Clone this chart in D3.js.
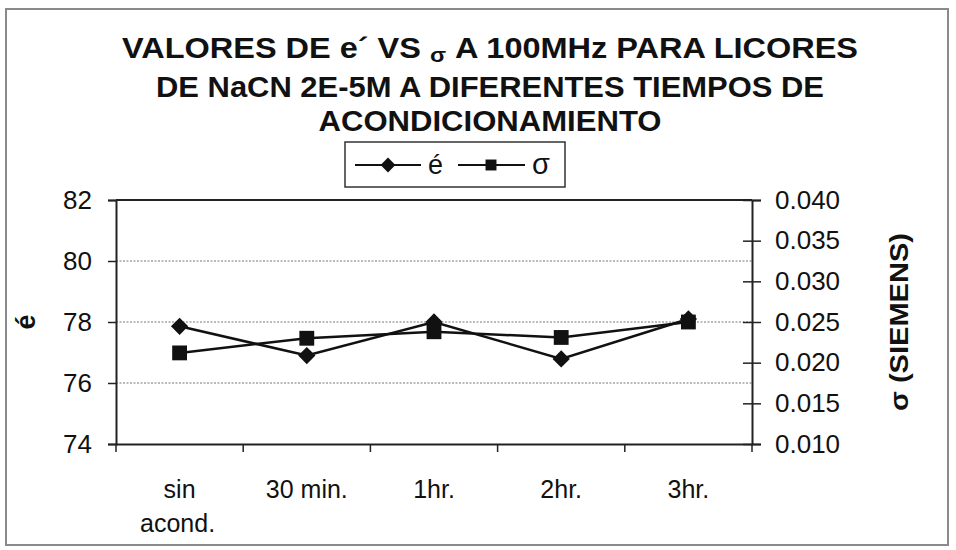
<!DOCTYPE html>
<html>
<head>
<meta charset="utf-8">
<script src="https://cdn.jsdelivr.net/npm/d3@7/dist/d3.min.js"></script>
<style>
  html, body { margin: 0; padding: 0; background: #fff; }
  svg { display: block; }
  text { font-family: "Liberation Sans", Arial, sans-serif; fill: #111; }
</style>
</head>
<body>
<svg id="chart" width="956" height="550"></svg>
<script>
const categories = ["sin|acond.", "30 min.", "1hr.", "2hr.", "3hr."];
const epsValues = [77.86, 76.90, 78.0, 76.79, 78.10];
const sigmaValues = [0.0212, 0.0230, 0.0238, 0.0231, 0.0250];
const leftTicks = [74, 76, 78, 80, 82];
const rightTicks = [0.010, 0.015, 0.020, 0.025, 0.030, 0.035, 0.040];
const gridValues = [76, 78, 80];
const titleLines = ["VALORES DE e´ VS σ A 100MHz PARA LICORES", "DE NaCN 2E-5M A DIFERENTES TIEMPOS DE", "ACONDICIONAMIENTO"];

const svg = d3.select("#chart");
const m = { left: 116, right: 752, top: 200, bottom: 444 };

// outer frame
svg.append("rect").attr("x", 6).attr("y", 9).attr("width", 942).attr("height", 536)
  .attr("fill", "none").attr("stroke", "#8a8a8a").attr("stroke-width", 2);

// title
const titleY = [58, 97, 131];
const titleLen = [736, 668, 343];
const title = svg.append("g");
titleLines.forEach((line, i) => {
  const t = title.append("text").attr("x", 490).attr("y", titleY[i])
    .attr("text-anchor", "middle").attr("font-weight", "bold").attr("font-size", 29)
    .attr("textLength", titleLen[i]).attr("lengthAdjust", "spacingAndGlyphs");
  if (i === 0) {
    const parts = line.split("σ");
    t.append("tspan").text(parts[0]);
    t.append("tspan").attr("font-size", 21).attr("dy", 4).text("σ");
    t.append("tspan").attr("dy", -4).text(parts[1]);
  } else {
    t.text(line);
  }
});

const x = d3.scaleBand().domain(categories).range([m.left, m.right]).padding(0);
const yL = d3.scaleLinear().domain([74, 82]).range([m.bottom, m.top]);
const yR = d3.scaleLinear().domain([0.010, 0.040]).range([m.bottom, m.top]);
const cx = d => x(d) + x.bandwidth() / 2;

// gridlines
svg.append("g").selectAll("line").data(gridValues).join("line")
  .attr("x1", m.left).attr("x2", m.right)
  .attr("y1", d => yL(d)).attr("y2", d => yL(d))
  .attr("stroke", "#777").attr("stroke-width", 1.2).attr("stroke-dasharray", "2,1.5");

// plot frame (top)
svg.append("line").attr("x1", m.left).attr("x2", m.right).attr("y1", m.top).attr("y2", m.top)
  .attr("stroke", "#222").attr("stroke-width", 2);

// left axis
const axL = svg.append("g").attr("transform", `translate(${m.left},0)`)
  .call(d3.axisLeft(yL).tickValues(leftTicks).tickSize(8).tickPadding(16).tickFormat(d3.format("d")));
axL.select(".domain").attr("stroke", "#222").attr("stroke-width", 2);
axL.selectAll(".tick line").attr("stroke", "#222").attr("stroke-width", 1.5);
axL.selectAll(".tick text").attr("font-size", 26).attr("fill", "#111")
  .style("font-family", "'Liberation Sans', Arial, sans-serif");

// right axis
const axR = svg.append("g").attr("transform", `translate(${m.right},0)`)
  .call(d3.axisRight(yR).tickValues(rightTicks).tickSize(9).tickPadding(14).tickFormat(d3.format(".3f")));
axR.select(".domain").attr("stroke", "#222").attr("stroke-width", 2);
axR.selectAll(".tick line").attr("x1", -9).attr("stroke", "#222").attr("stroke-width", 1.5);
axR.selectAll(".tick text").attr("font-size", 26).attr("fill", "#111")
  .style("font-family", "'Liberation Sans', Arial, sans-serif");

// bottom axis
const axB = svg.append("g").attr("transform", `translate(0,${m.bottom})`)
  .call(d3.axisBottom(x).tickSize(0).tickPadding(0).tickFormat(""));
axB.select(".domain").attr("stroke", "#222").attr("stroke-width", 2);
axB.selectAll(".tick").remove();
const bounds = categories.map(c => x(c)).concat([m.right]);
axB.selectAll("line.bt").data(bounds).join("line").attr("class", "bt")
  .attr("x1", d => d).attr("x2", d => d).attr("y1", 0).attr("y2", 8)
  .attr("stroke", "#222").attr("stroke-width", 1.5);
const lbl = axB.selectAll("text.cl").data(categories).join("text").attr("class", "cl")
  .attr("text-anchor", "middle").attr("font-size", 25).attr("y", 54);
lbl.each(function(d) {
  const parts = d.split("|");
  const t = d3.select(this);
  parts.forEach((p, i) => {
    t.append("tspan").attr("x", cx(d) - (i === 1 ? 2 : 0)).attr("dy", i === 0 ? 0 : 34).text(p);
  });
});

// axis titles
svg.append("text").attr("transform", `translate(35,${(m.top + m.bottom) / 2}) rotate(-90)`)
  .attr("text-anchor", "middle").attr("font-weight", "bold").attr("font-size", 27).text("é");
svg.append("text").attr("transform", `translate(908,${(m.top + m.bottom) / 2}) rotate(-90)`)
  .attr("text-anchor", "middle").attr("font-weight", "bold").attr("font-size", 26)
  .attr("textLength", 178).attr("lengthAdjust", "spacingAndGlyphs").text("σ (SIEMENS)");

// series lines
const lineE = d3.line().x((d, i) => cx(categories[i])).y(d => yL(d));
const lineS = d3.line().x((d, i) => cx(categories[i])).y(d => yR(d));
svg.append("path").attr("d", lineE(epsValues)).attr("fill", "none").attr("stroke", "#111").attr("stroke-width", 2.5);
svg.append("path").attr("d", lineS(sigmaValues)).attr("fill", "none").attr("stroke", "#111").attr("stroke-width", 2.5);

const diamond = d3.symbol().type(d3.symbolDiamond2).size(190);
const square = d3.symbol().type(d3.symbolSquare).size(220);
svg.append("g").selectAll("path").data(sigmaValues).join("path")
  .attr("d", square).attr("transform", (d, i) => `translate(${cx(categories[i])},${yR(d)})`).attr("fill", "#111");
svg.append("g").selectAll("path").data(epsValues).join("path")
  .attr("d", diamond).attr("transform", (d, i) => `translate(${cx(categories[i])},${yL(d)})`).attr("fill", "#111");

// legend
const lg = svg.append("g");
lg.append("rect").attr("x", 345).attr("y", 142).attr("width", 220).attr("height", 45)
  .attr("fill", "#fff").attr("stroke", "#333").attr("stroke-width", 1.5);
lg.append("line").attr("x1", 355).attr("x2", 421).attr("y1", 165).attr("y2", 165).attr("stroke", "#111").attr("stroke-width", 2);
lg.append("path").attr("d", d3.symbol().type(d3.symbolDiamond2).size(140)).attr("transform", "translate(388,165)").attr("fill", "#111");
lg.append("text").attr("x", 428).attr("y", 174).attr("font-size", 27).text("é");
lg.append("line").attr("x1", 458).attr("x2", 525).attr("y1", 165).attr("y2", 165).attr("stroke", "#111").attr("stroke-width", 2);
lg.append("path").attr("d", d3.symbol().type(d3.symbolSquare).size(120)).attr("transform", "translate(491,165)").attr("fill", "#111");
lg.append("text").attr("x", 532).attr("y", 174).attr("font-size", 29).text("σ");
</script>
</body>
</html>
